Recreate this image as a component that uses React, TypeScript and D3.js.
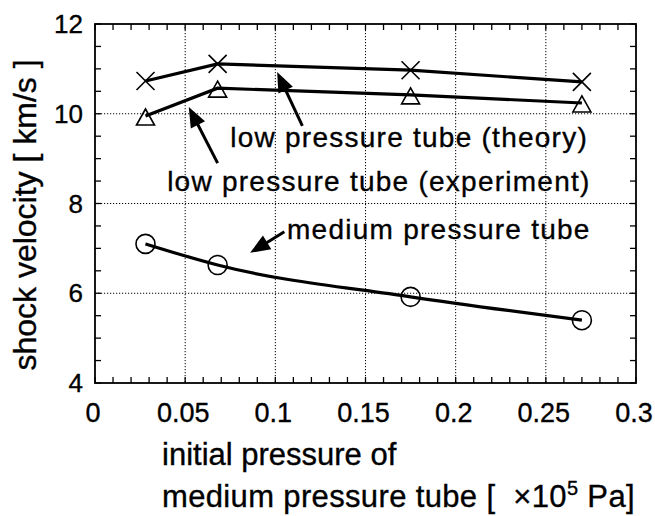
import React from "react";
import * as d3 from "d3";

const pressures = [0.028, 0.068, 0.175, 0.27];
const theory = [10.73, 11.11, 10.97, 10.71];
const experiment = [9.95, 10.57, 10.42, 10.24];
const medium = [7.1, 6.63, 5.92, 5.4];

const xTicks = [0, 0.05, 0.1, 0.15, 0.2, 0.25, 0.3];
const xTickLabels = ["0", "0.05", "0.1", "0.15", "0.2", "0.25", "0.3"];
const yTicks = [4, 6, 8, 10, 12];
const yTickLabels = ["4", "6", "8", "10", "12"];

const annotations = [
  { text: "low pressure tube (theory)", tx: 0.075, ty: 9.26, tip: [0.101, 10.93], tail: [0.115, 9.73] },
  { text: "low pressure tube (experiment)", tx: 0.04, ty: 8.28, tip: [0.052, 10.15], tail: [0.068, 8.9] },
  { text: "medium pressure tube", tx: 0.1065, ty: 7.21, tip: [0.086, 6.9], tail: [0.105, 7.37] },
];

const W = 655, H = 516;
const L = 95, R = 636, T = 24, B = 383;
const FONT = "'Liberation Sans', Arial, Helvetica, sans-serif";

export default function App() {
  const x = d3.scaleLinear().domain([0, 0.3]).range([L, R]);
  const y = d3.scaleLinear().domain([4, 12]).range([B, T]);

  const straight = d3.line<number>().x((_, i) => x(pressures[i])).y((d) => y(d));
  const smooth = d3.line<number>().x((_, i) => x(pressures[i])).y((d) => y(d)).curve(d3.curveMonotoneX);

  const xMinor = d3.range(0, 31).map((i) => i / 100);
  const yMinor = d3.range(0, 17).map((i) => 4 + i * 0.5);

  const tickLen = 6;

  const arrowHead = (tip: number[], tail: number[]) => {
    const tx = x(tip[0]), ty = y(tip[1]);
    const sx = x(tail[0]), sy = y(tail[1]);
    const ang = Math.atan2(ty - sy, tx - sx);
    const len = 20, half = 8;
    const bx = tx - len * Math.cos(ang), by = ty - len * Math.sin(ang);
    const px = -Math.sin(ang) * half, py = Math.cos(ang) * half;
    return {
      line: { x1: sx, y1: sy, x2: bx + 2 * Math.cos(ang), y2: by + 2 * Math.sin(ang) },
      head: `${tx},${ty} ${bx + px},${by + py} ${bx - px},${by - py}`,
    };
  };

  const textStroke = { stroke: "#000", strokeWidth: 0.35 };

  return (
    <div style={{ position: "absolute", left: 0, top: 0 }}>
      <svg width={W} height={H} style={{ display: "block", background: "#fff" }} fontFamily={FONT}>
        <rect x={0} y={0} width={W} height={H} fill="#fff" />
        {/* grid */}
        {xTicks.slice(1, -1).map((t) => (
          <line key={"gx" + t} x1={x(t)} x2={x(t)} y1={T} y2={B} stroke="#000" strokeWidth={1} strokeDasharray="1.2,1.8" />
        ))}
        {yTicks.slice(1, -1).map((t) => (
          <line key={"gy" + t} x1={L} x2={R} y1={y(t)} y2={y(t)} stroke="#000" strokeWidth={1} strokeDasharray="1.2,1.8" />
        ))}
        {/* minor ticks */}
        {xMinor.map((t) => (
          <g key={"xt" + t}>
            <line x1={x(t)} x2={x(t)} y1={B} y2={B - tickLen} stroke="#000" strokeWidth={1.3} />
            <line x1={x(t)} x2={x(t)} y1={T} y2={T + tickLen} stroke="#000" strokeWidth={1.3} />
          </g>
        ))}
        {yMinor.map((t) => (
          <g key={"yt" + t}>
            <line x1={L} x2={L + tickLen} y1={y(t)} y2={y(t)} stroke="#000" strokeWidth={1.3} />
            <line x1={R} x2={R - tickLen} y1={y(t)} y2={y(t)} stroke="#000" strokeWidth={1.3} />
          </g>
        ))}
        {/* frame */}
        <rect x={L} y={T} width={R - L} height={B - T} fill="none" stroke="#000" strokeWidth={1.8} />

        {/* tick labels */}
        {xTicks.map((t, i) => (
          <text key={"xl" + t} x={x(t) - 2} y={422} textAnchor="middle" fontSize={27} {...textStroke}>
            {xTickLabels[i]}
          </text>
        ))}
        {yTicks.map((t, i) => (
          <text key={"yl" + t} x={83} y={y(t) + 9} textAnchor="end" fontSize={26} {...textStroke}>
            {yTickLabels[i]}
          </text>
        ))}

        {/* axis titles */}
        <text transform={`translate(36,215) rotate(-90)`} textAnchor="middle" fontSize={32} {...textStroke}>
          shock velocity [ km/s ]
        </text>
        <text x={162} y={465} fontSize={31} {...textStroke}>initial pressure of</text>
        <text x={162} y={507} fontSize={31} letterSpacing={0.35} {...textStroke}>
          {"medium pressure tube [\u00a0\u00a0×10"}
          <tspan fontSize={20} dy={-12}>5</tspan>
          <tspan dy={12}>{"\u00a0Pa]"}</tspan>
        </text>

        {/* series lines */}
        <path d={straight(theory) || ""} fill="none" stroke="#000" strokeWidth={3.2} />
        <path d={straight(experiment) || ""} fill="none" stroke="#000" strokeWidth={3.2} />
        <path d={smooth(medium) || ""} fill="none" stroke="#000" strokeWidth={3.2} />

        {/* markers */}
        {theory.map((v, i) => {
          const cx = x(pressures[i]), cy = y(v), s = 9;
          return (
            <g key={"mx" + i} stroke="#000" strokeWidth={1.6}>
              <line x1={cx - s} y1={cy - s} x2={cx + s} y2={cy + s} />
              <line x1={cx - s} y1={cy + s} x2={cx + s} y2={cy - s} />
            </g>
          );
        })}
        {experiment.map((v, i) => {
          const cx = x(pressures[i]), cy = y(v) + 2;
          return (
            <polygon key={"mt" + i} points={`${cx},${cy - 9} ${cx - 9},${cy + 7} ${cx + 9},${cy + 7}`} fill="none" stroke="#000" strokeWidth={1.6} />
          );
        })}
        {medium.map((v, i) => (
          <circle key={"mc" + i} cx={x(pressures[i])} cy={y(v)} r={9.5} fill="none" stroke="#000" strokeWidth={1.6} />
        ))}

        {/* annotations */}
        {annotations.map((a) => {
          const ah = arrowHead(a.tip, a.tail);
          return (
            <g key={a.text}>
              <line {...ah.line} stroke="#000" strokeWidth={3} />
              <polygon points={ah.head} fill="#000" />
              <text x={x(a.tx)} y={y(a.ty)} fontSize={28} letterSpacing={1.25} {...textStroke}>{a.text}</text>
            </g>
          );
        })}
      </svg>
    </div>
  );
}
